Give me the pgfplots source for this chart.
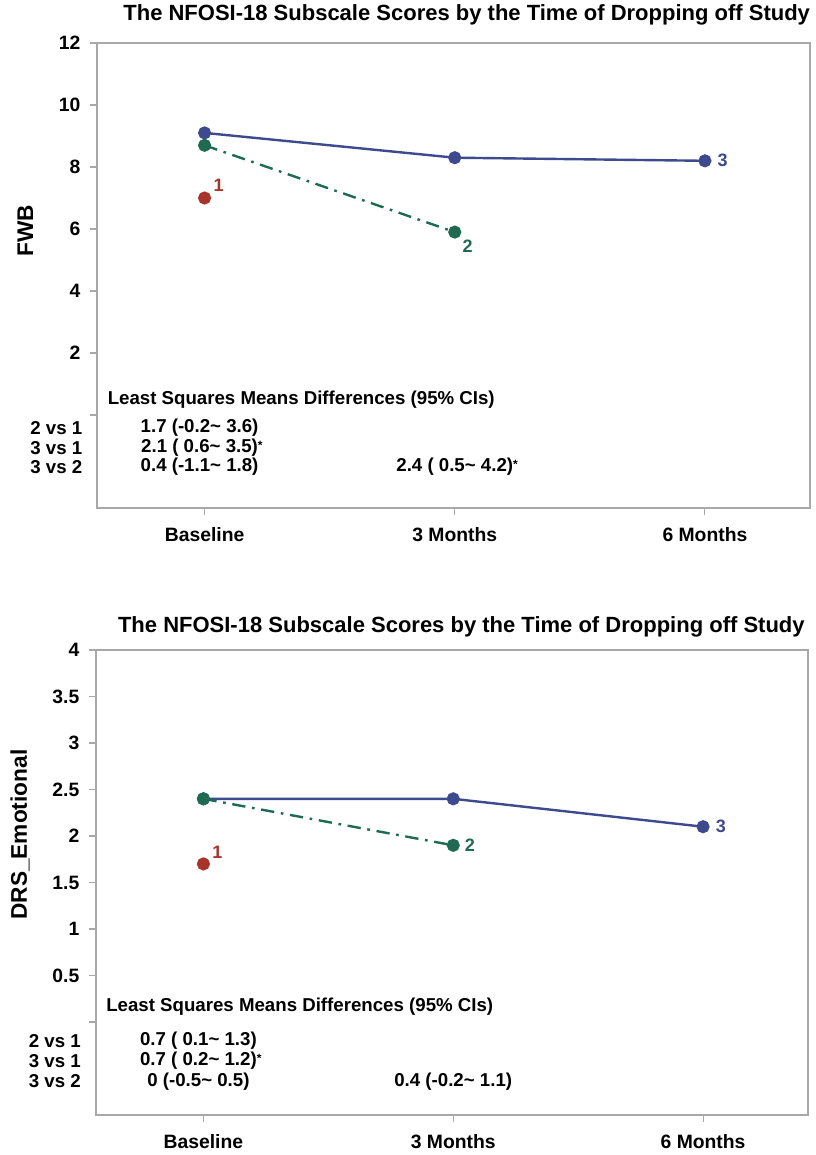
\documentclass[border=0pt]{standalone}
\usepackage{fontspec}
\setmainfont{Liberation Sans}
\usepackage{pgfplots}
\pgfplotsset{compat=1.18}
\definecolor{cred}{HTML}{A8332B}
\definecolor{cgreen}{HTML}{1E6B52}
\definecolor{cblue}{HTML}{3E4A8E}
\definecolor{framec}{HTML}{A8A8A8}
\tikzset{
  ann/.style={font=\fontsize{14}{16}\selectfont\bfseries, inner sep=0pt},
  ptl/.style={font=\fontsize{13.5}{15}\selectfont\bfseries, inner sep=0pt},
}
\newcommand{\sig}{\rlap{\raisebox{0.35ex}{\fontsize{9}{9}\selectfont *}}}
\pgfplotsset{
  panel/.style={
    scale only axis,
    width=534.75pt, height=348.75pt,
    xmin=-0.43, xmax=2.42,
    xtick={0,1,2},
    xticklabels={Baseline,3 Months,6 Months},
    tick pos=left,
    tick align=outside,
    major tick length=5pt,
    axis line style={framec, line width=1pt},
    tick style={framec, line width=0.8pt},
    /pgf/number format/assume math mode=true,
    ticklabel style={font=\fontsize{14.5}{16}\selectfont\bfseries},
    xticklabel style={yshift=-6pt},
    yticklabel style={xshift=-4pt},
    clip=false,
  },
  bl/.style={cblue, line width=1.8pt, mark=*, mark size=4pt, mark options={solid, fill=cblue}},
  gr/.style={cgreen, line width=1.8pt, dash pattern=on 10pt off 5pt on 2pt off 5pt, mark=*, mark size=4pt, mark options={solid, fill=cgreen}},
  rd/.style={cred, line width=1.8pt, mark=*, mark size=4pt, mark options={solid, fill=cred}, only marks},
}
\begin{document}
\begin{tikzpicture}
\path[use as bounding box] (0,0) rectangle (612pt,-866.25pt);

% ---------- top panel ----------
\begin{axis}[panel, at={(72.75pt,-381pt)}, anchor=south west,
  ymin=-3, ymax=12, ytick={0,2,4,6,8,10,12},
  yticklabels={,2,4,6,8,10,12}]
\addplot[bl] coordinates {(0,9.1) (1,8.3) (2,8.2)};
\addplot[gr] coordinates {(0,8.7) (1,5.9)};
\addplot[rd] coordinates {(0,7.0)};
\node[ptl, text=cred, anchor=south west] at (axis cs:0.035,7.2) {1};
\node[ptl, text=cgreen, anchor=north west] at (axis cs:1.03,5.65) {2};
\node[ptl, text=cblue, anchor=west] at (axis cs:2.05,8.2) {3};
\node[ann, anchor=west] at (axis cs:-0.388,0.48) {Least Squares Means Differences (95\% CIs)};
\node[ann, anchor=east] at (axis cs:-0.488,-0.42) {2 vs 1};
\node[ann, anchor=east] at (axis cs:-0.488,-1.06) {3 vs 1};
\node[ann, anchor=east] at (axis cs:-0.488,-1.68) {3 vs 2};
\node[ann] at (axis cs:-0.02,-0.42) {1.7 (-0.2\textasciitilde{} 3.6)};
\node[ann] at (axis cs:-0.02,-1.06) {2.1 ( 0.6\textasciitilde{} 3.5)\sig};
\node[ann] at (axis cs:-0.02,-1.68) {0.4 (-1.1\textasciitilde{} 1.8)};
\node[ann] at (axis cs:1.0,-1.68) {2.4 ( 0.5\textasciitilde{} 4.2)\sig};
\end{axis}

% ---------- bottom panel ----------
\begin{axis}[panel, at={(72pt,-836.25pt)}, anchor=south west,
  width=534pt,
  ymin=-1, ymax=4, ytick={0,0.5,1,1.5,2,2.5,3,3.5,4},
  yticklabels={,0.5,1,1.5,2,2.5,3,3.5,4}]
\addplot[bl] coordinates {(0,2.4) (1,2.4) (2,2.1)};
\addplot[gr] coordinates {(0,2.4) (1,1.9)};
\addplot[rd] coordinates {(0,1.7)};
\node[ptl, text=cred, anchor=south west] at (axis cs:0.035,1.76) {1};
\node[ptl, text=cgreen, anchor=west] at (axis cs:1.045,1.9) {2};
\node[ptl, text=cblue, anchor=west] at (axis cs:2.05,2.1) {3};
\node[ann, anchor=west] at (axis cs:-0.39,0.17) {Least Squares Means Differences (95\% CIs)};
\node[ann, anchor=east] at (axis cs:-0.49,-0.205) {2 vs 1};
\node[ann, anchor=east] at (axis cs:-0.49,-0.42) {3 vs 1};
\node[ann, anchor=east] at (axis cs:-0.49,-0.64) {3 vs 2};
\node[ann] at (axis cs:-0.02,-0.205) {0.7 ( 0.1\textasciitilde{} 1.3)};
\node[ann] at (axis cs:-0.02,-0.42) {0.7 ( 0.2\textasciitilde{} 1.2)\sig};
\node[ann] at (axis cs:-0.02,-0.64) {0 (-0.5\textasciitilde{} 0.5)};
\node[ann] at (axis cs:1.0,-0.64) {0.4 (-0.2\textasciitilde{} 1.1)};
\end{axis}

% titles and y labels
\node[font=\fontsize{16.5}{20}\selectfont\bfseries] at (350pt,-11.5pt) {The NFOSI-18 Subscale Scores by the Time of Dropping off Study};
\node[font=\fontsize{16.5}{20}\selectfont\bfseries] at (346pt,-470pt) {The NFOSI-18 Subscale Scores by the Time of Dropping off Study};
\node[font=\fontsize{17}{20}\selectfont\bfseries, rotate=90] at (19pt,-173pt) {FWB};
\node[font=\fontsize{17}{20}\selectfont\bfseries, rotate=90] at (15pt,-626pt) {DRS\_Emotional};
\end{tikzpicture}
\end{document}
